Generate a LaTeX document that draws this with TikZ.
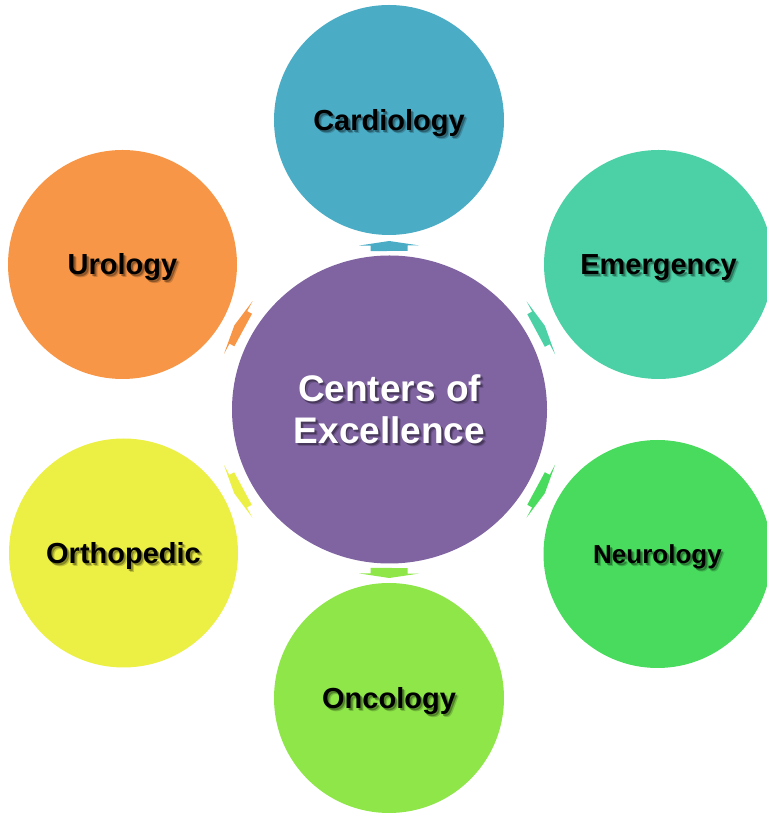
\documentclass[tikz,border=0pt]{standalone}
\usepackage{fontspec}
\setmainfont{Liberation Sans}
\usetikzlibrary{calc,shapes.geometric}
\definecolor{coecol}{RGB}{128,100,162}
\definecolor{cardcol}{RGB}{75,172,198}
\definecolor{emercol}{RGB}{75,209,165}
\definecolor{neurcol}{RGB}{72,219,93}
\definecolor{onccol}{RGB}{142,230,72}
\definecolor{orthcol}{RGB}{236,239,68}
\definecolor{urocol}{RGB}{247,150,70}
\tikzset{
  bub/.style={circle, minimum size=229pt, inner sep=0pt, draw=none},
  lbl/.style={inner sep=0pt, anchor=base},
}
\newcommand\coearrow[3]{%
  \fill[#3] let \p1=($(#1)-(coe)$), \n1={atan2(\y1,\x1)} in
    [shift={($(coe)!#2!(#1)$)}, rotate=\n1]
    (-5.5,-18.5) -- (0,-18.5) -- (0,-30) -- (4.5,0) -- (0,30) -- (0,18.5) -- (-5.5,18.5) -- cycle;}
\newcommand\shlabel[6]{%
  \node[lbl, font=\bfseries\fontsize{#3}{#3}\selectfont, text=#5, opacity=.18] at ($#2+(3,-3)$) {#6};
  \node[lbl, font=\bfseries\fontsize{#3}{#3}\selectfont, text=#5, opacity=.30] at ($#2+(1.8,-1.8)$) {#6};
  \node[lbl, font=\bfseries\fontsize{#3}{#3}\selectfont, text=#4] (#1) at ($#2$) {#6};}
\begin{document}
\begin{tikzpicture}[x=1pt,y=1pt]
\useasboundingbox (0,0) rectangle (767,814);
\node[bub, fill=cardcol, minimum size=230pt] (card) at (389,694) {};
\node[bub, fill=emercol] (emer) at (658.5,549.5) {};
\node[bub, fill=neurcol, minimum size=228pt] (neur) at (657.5,260) {};
\node[bub, fill=onccol, minimum size=230pt] (onc) at (389,116) {};
\node[bub, fill=orthcol] (orth) at (123.5,261) {};
\node[bub, fill=urocol] (uro) at (122.5,549.5) {};
\node[ellipse, fill=coecol, minimum width=315pt, minimum height=308pt, inner sep=0pt] (coe) at (389.5,404.5) {};
\coearrow{card}{164pt}{cardcol}
\coearrow{emer}{172pt}{emercol}
\coearrow{neur}{172pt}{neurcol}
\coearrow{onc}{164pt}{onccol}
\coearrow{orth}{172pt}{orthcol}
\coearrow{uro}{172pt}{urocol}
\shlabel{tcard}{(card)+(0,-10.4)}{29}{black}{black}{Cardiology}
\shlabel{temer}{(emer)+(0,-10.4)}{29}{black}{black}{Emergency}
\shlabel{tneur}{(neur)+(0,-9.3)}{26}{black}{black}{Neurology}
\shlabel{tonc}{(onc)+(0,-10.4)}{29}{black}{black}{Oncology}
\shlabel{torth}{(orth)+(0,-10.4)}{29}{black}{black}{Orthopedic}
\shlabel{turo}{(uro)+(0,-10.4)}{29}{black}{black}{Urology}
\shlabel{tcoe1}{(coe)+(0,7.5)}{37}{white}{black}{Centers of}
\shlabel{tcoe2}{(coe)+(0,-34.5)}{37}{white}{black}{Excellence}
\end{tikzpicture}
\end{document}
